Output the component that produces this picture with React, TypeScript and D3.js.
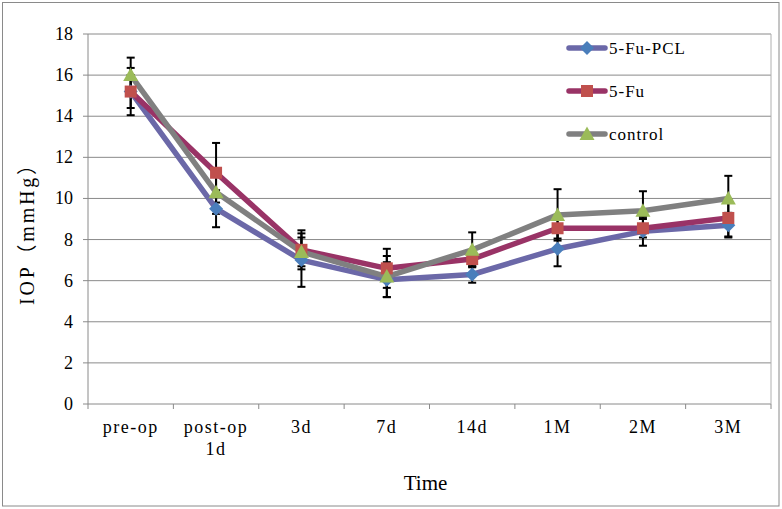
import React from "react";
import * as d3 from "d3";

const categories: string[] = ["pre-op", "post-op\n1d", "3d", "7d", "14d", "1M", "2M", "3M"];
const seriesNames: string[] = ["5-Fu-PCL", "5-Fu", "control"];
const pclValues: number[] = [15.2, 9.5, 7.0, 6.05, 6.3, 7.55, 8.4, 8.7];
const fuValues: number[] = [15.2, 11.25, 7.5, 6.6, 7.05, 8.55, 8.55, 9.05];
const controlValues: number[] = [16.0, 10.3, 7.4, 6.2, 7.5, 9.2, 9.4, 10.0];
const pclErrors: number[] = [0.8, 0.9, 1.3, 0.85, 0.4, 0.85, 0.7, 0.6];
const fuErrors: number[] = [1.15, 1.45, 0.95, 0.95, 0.35, 0.5, 0.45, 0.9];
const controlErrors: number[] = [0.85, 1.05, 0.7, 1.0, 0.85, 1.25, 0.95, 1.1];
const yTicks: number[] = [0, 2, 4, 6, 8, 10, 12, 14, 16, 18];

const W = 782;
const H = 509;
const plot = { left: 88, right: 771, top: 34, bottom: 404 };

const styles = [
  { line: "#6B68A8", marker: "#4A7EBB", shape: "diamond" },
  { line: "#993366", marker: "#C0504D", shape: "square" },
  { line: "#808080", marker: "#9BBB59", shape: "triangle" },
];

const seriesValues = [pclValues, fuValues, controlValues];
const seriesErrors = [pclErrors, fuErrors, controlErrors];

function Marker({ shape, x, y, fill }: { shape: string; x: number; y: number; fill: string }) {
  if (shape === "diamond") {
    const s = 7;
    return <path d={`M${x},${y - s}L${x + s},${y}L${x},${y + s}L${x - s},${y}Z`} fill={fill} />;
  }
  if (shape === "square") {
    const s = 6;
    return <rect x={x - s} y={y - s} width={2 * s} height={2 * s} fill={fill} />;
  }
  const s = 7.5;
  return <path d={`M${x},${y - s}L${x + s},${y + s * 0.8}L${x - s},${y + s * 0.8}Z`} fill={fill} />;
}

export default function App() {
  const x = d3.scaleBand<string>().domain(categories).range([plot.left, plot.right]).padding(0);
  const y = d3.scaleLinear().domain([0, 18]).range([plot.bottom, plot.top]);
  const cx = (c: string) => (x(c) as number) + x.bandwidth() / 2;
  const line = d3
    .line<number>()
    .x((_, i) => cx(categories[i]))
    .y((v) => y(v));

  const serif = "'Liberation Serif', 'Noto Sans CJK SC', serif";
  const bounds = [...categories.map((c) => x(c) as number), plot.right];

  return (
    <svg
      width={W}
      height={H}
      style={{ position: "absolute", left: 0, top: 0, display: "block", background: "#fff" }}
      fontFamily={serif}
    >
      <rect x={2.5} y={2.5} width={776.5} height={503.5} fill="#fff" stroke="#8a8a8a" strokeWidth={1} />
      {yTicks.map((t) => (
        <line key={"g" + t} x1={plot.left - 5} x2={plot.right} y1={y(t)} y2={y(t)} stroke="#8a8a8a" strokeWidth={1} />
      ))}
      <line x1={plot.left} x2={plot.left} y1={plot.top} y2={plot.bottom} stroke="#8a8a8a" />
      <line x1={plot.right} x2={plot.right} y1={plot.top} y2={plot.bottom} stroke="#b0b0b0" />
      {bounds.map((b, i) => (
        <line key={"xt" + i} x1={b} x2={b} y1={plot.bottom} y2={plot.bottom + 5} stroke="#8a8a8a" />
      ))}
      {yTicks.map((t) => (
        <text key={"yl" + t} x={73} y={y(t) + 6} textAnchor="end" fontSize={18} fill="#000">
          {t}
        </text>
      ))}
      {categories.map((c) => (
        <text key={"xl" + c} x={cx(c)} y={433} textAnchor="middle" fontSize={18} letterSpacing={1.5} fill="#000">
          {c.split("\n").map((ln, i) => (
            <tspan key={i} x={cx(c)} dy={i === 0 ? 0 : 22}>
              {ln}
            </tspan>
          ))}
        </text>
      ))}
      <text x={(plot.left + plot.right) / 2 - 4} y={490} textAnchor="middle" fontSize={21} fill="#000">
        Time
      </text>
      <text
        transform="translate(34,230) rotate(-90)"
        textAnchor="middle"
        fontSize={20}
        textLength={150}
        lengthAdjust="spacing"
        fill="#000"
      >
        IOP（mmHg）
      </text>
      {seriesValues.map((vals, si) =>
        vals.map((v, i) => {
          const px = cx(categories[i]);
          const e = seriesErrors[si][i];
          const y1 = y(v + e);
          const y2 = y(v - e);
          return (
            <g key={`e${si}-${i}`} stroke="#000" strokeWidth={2}>
              <line x1={px} x2={px} y1={y1} y2={y2} />
              <line x1={px - 4} x2={px + 4} y1={y1} y2={y1} />
              <line x1={px - 4} x2={px + 4} y1={y2} y2={y2} />
            </g>
          );
        })
      )}
      {seriesValues.map((vals, si) => (
        <path
          key={"l" + si}
          d={line(vals) as string}
          fill="none"
          stroke={styles[si].line}
          strokeWidth={5.5}
          strokeLinejoin="round"
          strokeLinecap="round"
        />
      ))}
      {seriesValues.map((vals, si) =>
        vals.map((v, i) => (
          <Marker key={`m${si}-${i}`} shape={styles[si].shape} x={cx(categories[i])} y={y(v)} fill={styles[si].marker} />
        ))
      )}
      {seriesNames.map((n, i) => {
        const ly = 48 + i * 43;
        return (
          <g key={"lg" + n}>
            <line x1={569} x2={605} y1={ly} y2={ly} stroke={styles[i].line} strokeWidth={5.5} strokeLinecap="round" />
            <Marker shape={styles[i].shape} x={587} y={ly} fill={styles[i].marker} />
            <text x={609} y={ly + 6} fontSize={17} letterSpacing={1} fill="#000">
              {n}
            </text>
          </g>
        );
      })}
    </svg>
  );
}
